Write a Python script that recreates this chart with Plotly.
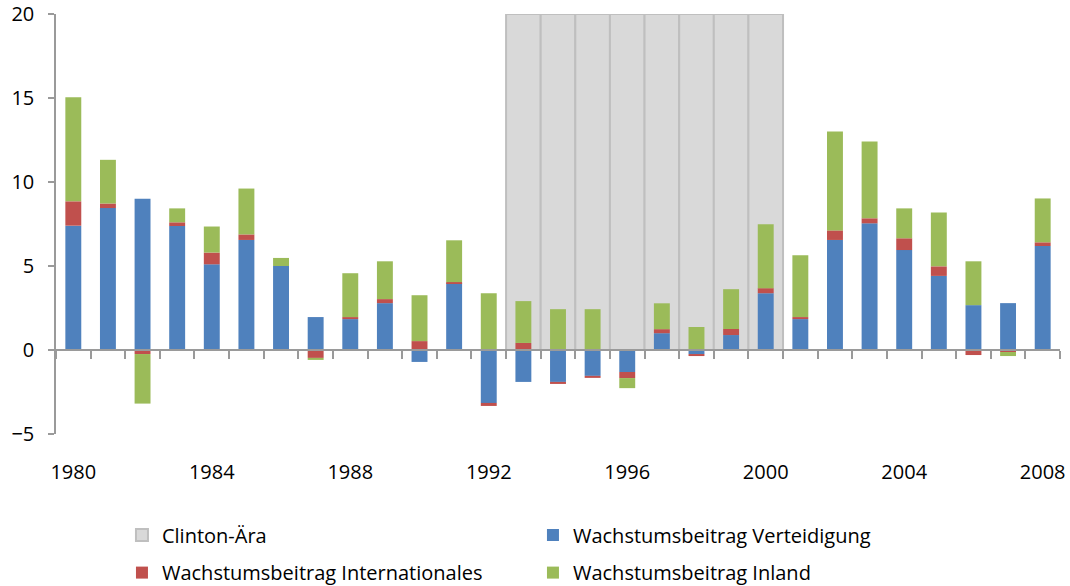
import plotly.graph_objects as go

years = list(range(1980, 2009))
verteidigung = [7.4, 8.45, 9.0, 7.38, 5.1, 6.55, 5.0, 1.96, 1.84, 2.79, -0.71, 3.98, -3.15, -1.9, -1.9,
                -1.54, -1.31, 1.0, -0.24, 0.89, 3.38, 1.84, 6.55, 7.54, 5.95, 4.41, 2.67, 2.79, 6.19]
internationales = [1.45, 0.27, -0.24, 0.22, 0.7, 0.33, 0.0, -0.47, 0.12, 0.24, 0.53, 0.06, -0.18, 0.42, -0.12,
                   -0.12, -0.36, 0.24, -0.12, 0.36, 0.3, 0.12, 0.57, 0.3, 0.7, 0.57, -0.3, -0.12, 0.22]
inland = [6.2, 2.6, -2.95, 0.83, 1.55, 2.73, 0.48, -0.12, 2.61, 2.25, 2.73, 2.49, 3.38, 2.49, 2.43,
          2.43, -0.6, 1.54, 1.37, 2.37, 3.8, 3.68, 5.88, 4.57, 1.78, 3.21, 2.61, -0.24, 2.61]
clinton_years = list(range(1993, 2001))
clinton_values = [20] * len(clinton_years)

x_tick_labels = list(range(1980, 2009, 4))
y_ticks = [-5, 0, 5, 10, 15, 20]
boundaries = [y + 0.5 for y in range(1979, 2009)]

FONT = "Open Sans"
AXIS_GREY = "#9a9a9a"

fig = go.Figure()

fig.add_trace(go.Bar(
    x=clinton_years, y=clinton_values, width=1, name="Clinton-Ära",
    marker=dict(color="#D9D9D9", line=dict(color="#BFBFBF", width=2)),
    xaxis="x", yaxis="y", legend="legend",
))

fig.add_trace(go.Bar(
    x=years, y=verteidigung, width=0.46, name="Wachstumsbeitrag Verteidigung",
    marker=dict(color="#4F81BD", line=dict(width=0)), xaxis="x2", yaxis="y", legend="legend",
))
fig.add_trace(go.Bar(
    x=years, y=internationales, width=0.46, name="Wachstumsbeitrag Internationales",
    marker=dict(color="#C0504D", line=dict(width=0)), xaxis="x2", yaxis="y", legend="legend2",
))
fig.add_trace(go.Bar(
    x=years, y=inland, width=0.46, name="Wachstumsbeitrag Inland",
    marker=dict(color="#9BBB59", line=dict(width=0)), xaxis="x2", yaxis="y", legend="legend2",
))

legend_common = dict(
    orientation="h", xanchor="left", yanchor="middle",
    font=dict(family=FONT, size=20, color="#000000"),
    bgcolor="rgba(0,0,0,0)", entrywidth=366, entrywidthmode="pixels",
    traceorder="normal", itemclick=False, itemdoubleclick=False,
)

fig.update_layout(
    width=1070, height=586,
    margin=dict(l=56, r=10, t=14, b=152, autoexpand=False),
    paper_bgcolor="white", plot_bgcolor="white",
    barmode="relative",
    showlegend=True,
    font=dict(family=FONT, size=20, color="#000000"),
    xaxis=dict(
        range=[1979.5, 2008.5], tickvals=x_tick_labels, ticktext=[str(v) for v in x_tick_labels],
        showline=False, ticks="", showgrid=False, zeroline=False,
        ticklabelstandoff=24, tickfont=dict(family=FONT, size=20, color="#000000"),
    ),
    xaxis2=dict(
        range=[1979.5, 2008.5], overlaying="x", anchor="free", position=0.2, side="bottom",
        tickvals=boundaries, showticklabels=False, ticks="outside", ticklen=8, tickwidth=1.5,
        tickcolor=AXIS_GREY, showline=True, linecolor=AXIS_GREY, linewidth=1.5,
        showgrid=False, zeroline=False,
    ),
    yaxis=dict(
        range=[-5, 20], tickvals=y_ticks, ticks="outside", ticklen=6, tickwidth=1.5,
        tickcolor=AXIS_GREY, showline=True, linecolor=AXIS_GREY, linewidth=1.5,
        showgrid=False, zeroline=False, ticklabelstandoff=10,
        tickfont=dict(family=FONT, size=20, color="#000000"),
    ),
    legend=dict(x=0.0657, y=-0.2405, **legend_common),
    legend2=dict(x=0.0657, y=-0.330, **legend_common),
)

fig.write_html("out.html", config={"displayModeBar": False},
               post_script="document.body.style.margin='0';")
